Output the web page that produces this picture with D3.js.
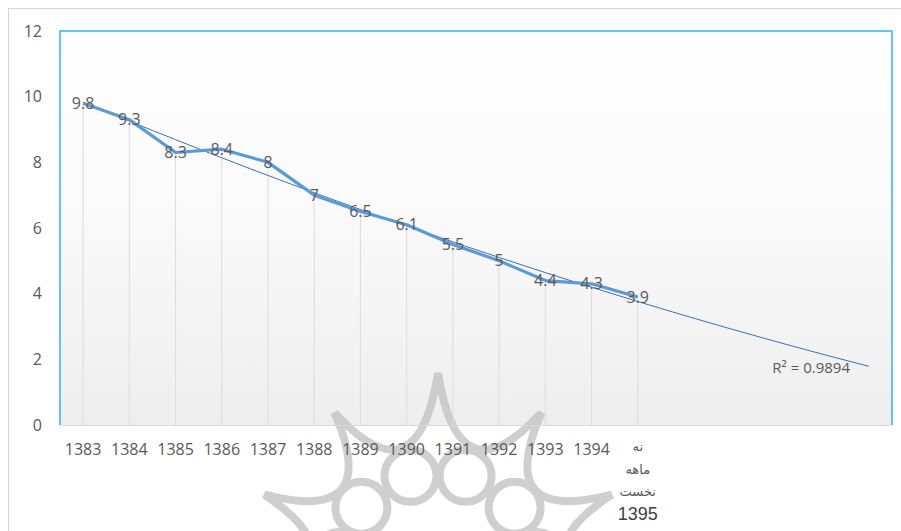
<!DOCTYPE html>
<html>
<head>
<meta charset="utf-8">
<script src="https://cdn.jsdelivr.net/npm/d3@7"></script>
<style>
  body { margin: 0; background: #fff; }
  svg { display: block; }
</style>
</head>
<body>
<svg id="chart"></svg>
<script>
// data
var years = ["1383", "1384", "1385", "1386", "1387", "1388", "1389", "1390", "1391", "1392", "1393", "1394", "1395"];
var values = [9.8, 9.3, 8.3, 8.4, 8, 7, 6.5, 6.1, 5.5, 5, 4.4, 4.3, 3.9];
var lastLabel = ["نه", "ماهه", "نخست"];
var yTicks = [0, 2, 4, 6, 8, 10, 12];
var forward = 5;          // trend line forecast periods
var r2Text = "R² = 0.9894";

var width = 901, height = 531;
var plot = {left: 60, right: 892, top: 31, bottom: 425};
var font = "Open Sans, sans-serif";

var svg = d3.select("#chart")
    .attr("width", width)
    .attr("height", height);

var defs = svg.append("defs");
var grad = defs.append("linearGradient")
    .attr("id", "plotBg")
    .attr("x1", 0).attr("y1", 0).attr("x2", 0).attr("y2", 1);
grad.append("stop").attr("offset", "0%").attr("stop-color", "#ffffff");
grad.append("stop").attr("offset", "45%").attr("stop-color", "#fafafa");
grad.append("stop").attr("offset", "100%").attr("stop-color", "#eeeeee");

// outer frame
svg.append("rect")
    .attr("x", 8.5).attr("y", 8.5)
    .attr("width", width).attr("height", height)
    .attr("fill", "#fff")
    .attr("stroke", "#d4d4d4");

var x = d3.scaleBand()
    .domain(d3.range(years.length + forward))
    .range([plot.left, plot.right]);

var y = d3.scaleLinear()
    .domain([0, 12])
    .range([plot.bottom, plot.top]);

function cx(i) { return x(i) + x.bandwidth() / 2; }

// plot area background
svg.append("rect")
    .attr("x", plot.left).attr("y", plot.top)
    .attr("width", plot.right - plot.left)
    .attr("height", plot.bottom - plot.top)
    .attr("fill", "url(#plotBg)");

// watermark ornament (from the source document)
var wm = svg.append("g")
    .attr("fill", "none")
    .attr("stroke", "#c4c4c4")
    .attr("stroke-width", 8)
    .attr("opacity", 0.8);
var center = [438, 572];
function polar(deg, r) {
    var a = deg * Math.PI / 180;
    return [center[0] + Math.cos(a) * r, center[1] + Math.sin(a) * r];
}
var tipAngles = [-189, -156, -123, -90, -57, -24, 9];
var tips = tipAngles.map(function(a) { return polar(a, a == -90 ? 199 : 190); });
var crown = "M" + tips[0];
for (var k = 1; k < tips.length; k++) {
    crown += "Q" + polar((tipAngles[k - 1] + tipAngles[k]) / 2, 72) + " " + tips[k];
}
wm.append("path").attr("d", crown);
[-106, -74, -40, -140, -8, -172].forEach(function(a) {
    var p = polar(a, 100);
    wm.append("circle")
        .attr("cx", p[0])
        .attr("cy", p[1])
        .attr("r", 26);
});

// plot area border
svg.append("path")
    .attr("d", "M" + plot.left + "," + plot.bottom + "V" + plot.top + "H" + plot.right + "V" + plot.bottom)
    .attr("fill", "none")
    .attr("stroke", "#29b6ef")
    .attr("stroke-width", 1.5);

svg.append("line")
    .attr("x1", plot.left).attr("x2", plot.right)
    .attr("y1", plot.bottom + 0.5).attr("y2", plot.bottom + 0.5)
    .attr("stroke", "#d9d9d9");

// drop lines
svg.selectAll()
    .data(values)
    .enter()
    .append("line")
    .attr("x1", function(d, i) { return cx(i); })
    .attr("x2", function(d, i) { return cx(i); })
    .attr("y1", function(d) { return y(d); })
    .attr("y2", plot.bottom)
    .attr("stroke", "#dcdcdc")
    .attr("stroke-width", 1);

// polynomial (order 2) trend line
var n = values.length;
var tMean = (n - 1) / 2;
var ts = d3.range(n).map(function(i) { return i - tMean; });
var t2Mean = d3.mean(ts, function(t) { return t * t; });
var yMean = d3.mean(values);
var b = d3.sum(ts, function(t, i) { return t * values[i]; }) / d3.sum(ts, function(t) { return t * t; });
var c = d3.sum(ts, function(t, i) { return (t * t - t2Mean) * values[i]; }) /
        d3.sum(ts, function(t) { return Math.pow(t * t - t2Mean, 2); });
function trend(i) {
    var t = i - tMean;
    return yMean + b * t + c * (t * t - t2Mean);
}
var trendPts = d3.range(0, n - 1 + forward + 0.01, 0.25);
svg.append("path")
    .datum(trendPts)
    .attr("fill", "none")
    .attr("stroke", "#3d6fb0")
    .attr("stroke-width", 1)
    .attr("d", d3.line()
        .x(function(i) { return x(0) + x.bandwidth() / 2 + i * x.step(); })
        .y(function(i) { return y(trend(i)); }));

// main line
svg.append("path")
    .datum(values)
    .attr("fill", "none")
    .attr("stroke", "#5b9bd5")
    .attr("stroke-width", 3.2)
    .attr("stroke-linejoin", "round")
    .attr("d", d3.line()
        .x(function(d, i) { return cx(i); })
        .y(function(d) { return y(d); }));

// data labels
svg.selectAll()
    .data(values)
    .enter()
    .append("text")
    .attr("x", function(d, i) { return cx(i); })
    .attr("y", function(d) { return y(d); })
    .attr("dy", "0.35em")
    .attr("text-anchor", "middle")
    .attr("font-family", font)
    .attr("font-size", "16px")
    .attr("fill", "#595959")
    .text(function(d) { return d; });

// y axis labels
svg.selectAll()
    .data(yTicks)
    .enter()
    .append("text")
    .attr("x", 42)
    .attr("y", function(d) { return y(d); })
    .attr("dy", "0.35em")
    .attr("text-anchor", "end")
    .attr("font-family", font)
    .attr("font-size", "16px")
    .attr("fill", "#595959")
    .text(function(d) { return d; });

// x axis labels
svg.selectAll()
    .data(years.slice(0, n - 1))
    .enter()
    .append("text")
    .attr("x", function(d, i) { return cx(i); })
    .attr("y", 455)
    .attr("text-anchor", "middle")
    .attr("font-family", font)
    .attr("font-size", "16px")
    .attr("fill", "#595959")
    .text(function(d) { return d; });

var last = svg.append("g");
last.selectAll()
    .data(lastLabel)
    .enter()
    .append("text")
    .attr("x", cx(n - 1))
    .attr("y", function(d, i) { return 451 + i * 22.5; })
    .attr("text-anchor", "middle")
    .attr("font-family", "DejaVu Sans, sans-serif")
    .attr("font-size", "13px")
    .attr("fill", "#595959")
    .text(function(d) { return d; });
last.append("text")
    .attr("x", cx(n - 1))
    .attr("y", 520)
    .attr("text-anchor", "middle")
    .attr("font-family", "Liberation Sans, Arial, sans-serif")
    .attr("font-size", "18px")
    .attr("fill", "#404040")
    .text(years[n - 1]);

// R squared
svg.append("text")
    .attr("x", 850)
    .attr("y", 373)
    .attr("text-anchor", "end")
    .attr("font-family", font)
    .attr("font-size", "15px")
    .attr("fill", "#595959")
    .text(r2Text);
</script>
</body>
</html>
